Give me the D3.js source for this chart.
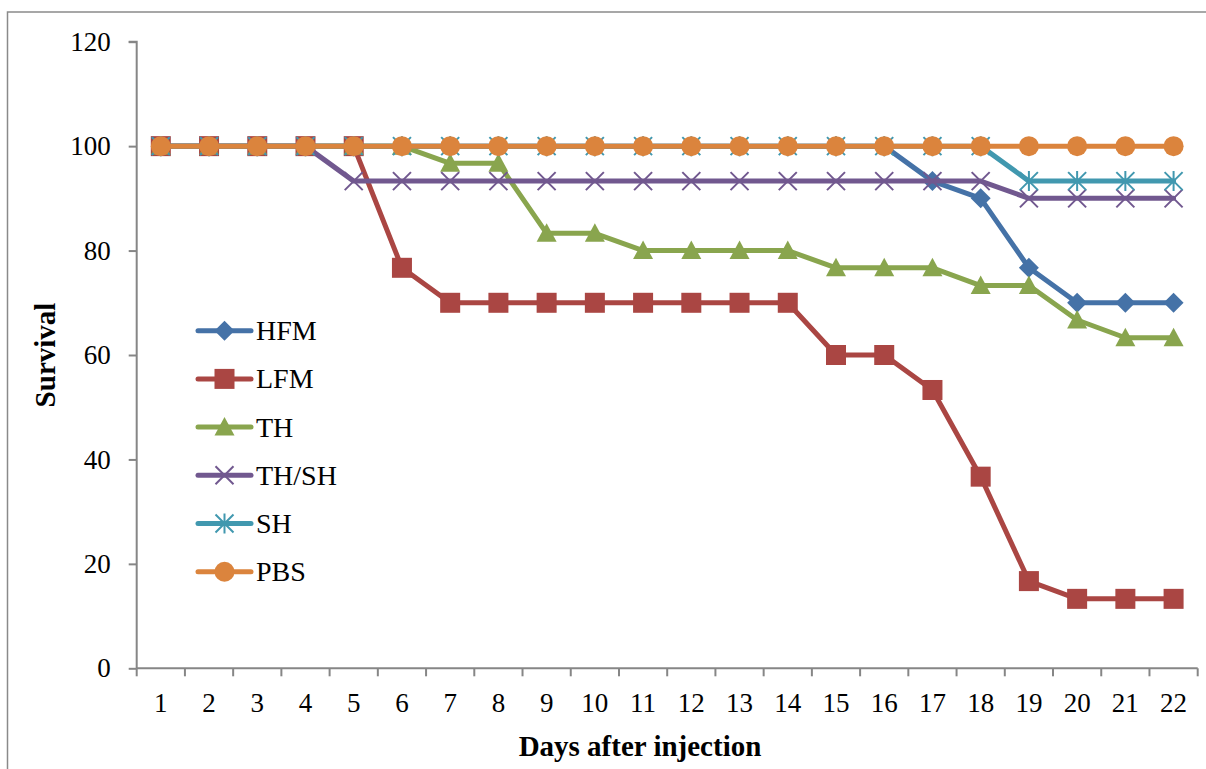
<!DOCTYPE html>
<html>
<head>
<meta charset="utf-8">
<script src="https://cdn.jsdelivr.net/npm/d3@7"></script>
<style>
  html, body { margin: 0; padding: 0; background: #fff; }
  svg { display: block; }
  text { font-family: "Liberation Serif", "Times New Roman", serif; fill: #000; }
</style>
</head>
<body>
<script>
const days = ["1","2","3","4","5","6","7","8","9","10","11","12","13","14","15","16","17","18","19","20","21","22"];
const seriesNames = ["HFM", "LFM", "TH", "TH/SH", "SH", "PBS"];
const hfm  = [100,100,100,100,100,100,100,100,100,100,100,100,100,100,100,100,93.3,90,76.7,70,70,70];
const lfm  = [100,100,100,100,100,76.7,70,70,70,70,70,70,70,70,60,60,53.3,36.7,16.7,13.3,13.3,13.3];
const th   = [100,100,100,100,100,100,96.7,96.7,83.3,83.3,80,80,80,80,76.7,76.7,76.7,73.3,73.3,66.7,63.3,63.3];
const thsh = [100,100,100,100,93.3,93.3,93.3,93.3,93.3,93.3,93.3,93.3,93.3,93.3,93.3,93.3,93.3,93.3,90,90,90,90];
const sh   = [100,100,100,100,100,100,100,100,100,100,100,100,100,100,100,100,100,100,93.3,93.3,93.3,93.3];
const pbs  = [100,100,100,100,100,100,100,100,100,100,100,100,100,100,100,100,100,100,100,100,100,100];
const yTicks = [0, 20, 40, 60, 80, 100, 120];

const seriesValues = [hfm, lfm, th, thsh, sh, pbs];
const colors = ["#4572A7", "#AA4643", "#89A54E", "#71588F", "#4198AF", "#DB843D"];
const markers = ["diamond", "square", "triangle", "x", "star", "circle"];

const W = 1206, H = 769;
const pLeft = 136.7, pRight = 1197.7, pTop = 41.7, pBottom = 668.3;

const svg = d3.select("body").append("svg").attr("width", W).attr("height", H);

// outer frame
svg.append("rect").attr("x", 7.5).attr("y", 12).attr("width", 1220).attr("height", 820)
  .attr("fill", "none").attr("stroke", "#8a8a8a").attr("stroke-width", 1.5);

const xBand = d3.scaleBand().domain(days).range([pLeft, pRight]).padding(0);
const xPt = d => xBand(d) + xBand.bandwidth() / 2;
const y = d3.scaleLinear().domain([0, 120]).range([pBottom, pTop]);

const axisColor = "#868686";

// Y axis
const yAxis = svg.append("g").attr("transform", `translate(${pLeft},0)`)
  .call(d3.axisLeft(y).tickValues(yTicks).tickSize(8).tickPadding(18).tickFormat(d3.format("d")));
yAxis.selectAll("path, line").attr("stroke", axisColor).attr("stroke-width", 2);
yAxis.select("path").attr("d", `M-8,${pTop}H0V${pBottom}`);
yAxis.selectAll("text").attr("font-size", 27).attr("font-family", "Liberation Serif").attr("fill", "#000");

// X axis
const xAxis = svg.append("g").attr("transform", `translate(0,${pBottom})`)
  .call(d3.axisBottom(xBand).tickSize(0).tickPadding(0));
xAxis.select("path").attr("d", `M${pLeft},0H${pRight}`).attr("stroke", axisColor).attr("stroke-width", 2);
xAxis.selectAll("text").attr("font-size", 27).attr("font-family", "Liberation Serif")
  .attr("fill", "#000").attr("y", 44).attr("dy", 0);
// boundary tick marks
const edges = days.map(d => xBand(d)).concat([pRight]);
xAxis.selectAll("line.edge").data(edges).enter().append("line").attr("class", "edge")
  .attr("x1", d => d).attr("x2", d => d).attr("y1", 0).attr("y2", 8)
  .attr("stroke", axisColor).attr("stroke-width", 2);

// axis titles
svg.append("text").attr("x", 640).attr("y", 756).attr("text-anchor", "middle")
  .attr("font-size", 29).attr("font-weight", "bold").text("Days after injection");
svg.append("text").attr("transform", "translate(55,355) rotate(-90)").attr("text-anchor", "middle")
  .attr("font-size", 29).attr("font-weight", "bold").text("Survival");

function drawMarker(g, type, color) {
  const s = 10;
  if (type === "diamond") {
    g.append("path").attr("d", `M0,${-s}L${s},0L0,${s}L${-s},0Z`).attr("fill", color);
  } else if (type === "square") {
    g.append("rect").attr("x", -s).attr("y", -s).attr("width", 2 * s).attr("height", 2 * s).attr("fill", color);
  } else if (type === "triangle") {
    g.append("path").attr("d", `M0,${-s}L${s},${s * 0.85}L${-s},${s * 0.85}Z`).attr("fill", color);
  } else if (type === "circle") {
    g.append("circle").attr("r", s).attr("fill", color);
  } else if (type === "x") {
    const a = 9;
    g.append("path").attr("d", `M${-a},${-a}L${a},${a}M${-a},${a}L${a},${-a}`)
      .attr("stroke", color).attr("stroke-width", 2).attr("fill", "none");
  } else if (type === "star") {
    const a = 9;
    g.append("path").attr("d", `M${-a},${-a}L${a},${a}M${-a},${a}L${a},${-a}M0,${-s}L0,${s}`)
      .attr("stroke", color).attr("stroke-width", 2).attr("fill", "none");
  }
}

const line = d3.line().x((d, i) => xPt(days[i])).y(d => y(d));

seriesValues.forEach((vals, si) => {
  const g = svg.append("g");
  g.append("path").datum(vals).attr("d", line).attr("fill", "none")
    .attr("stroke", colors[si]).attr("stroke-width", 5).attr("stroke-linejoin", "round").attr("stroke-linecap", "round");
  vals.forEach((v, i) => {
    const mg = g.append("g").attr("transform", `translate(${xPt(days[i])},${y(v)})`);
    drawMarker(mg, markers[si], colors[si]);
  });
});

// legend
const legend = svg.append("g");
seriesNames.forEach((name, i) => {
  const ly = 330.7 + i * 48.2;
  const lg = legend.append("g");
  lg.append("line").attr("x1", 198).attr("x2", 251).attr("y1", ly).attr("y2", ly)
    .attr("stroke", colors[i]).attr("stroke-width", 5).attr("stroke-linecap", "round");
  const mg = lg.append("g").attr("transform", `translate(224.5,${ly})`);
  drawMarker(mg, markers[i], colors[i]);
  lg.append("text").attr("x", 256).attr("y", ly).attr("dy", "0.34em")
    .attr("font-size", 28).text(name);
});
</script>
</body>
</html>
